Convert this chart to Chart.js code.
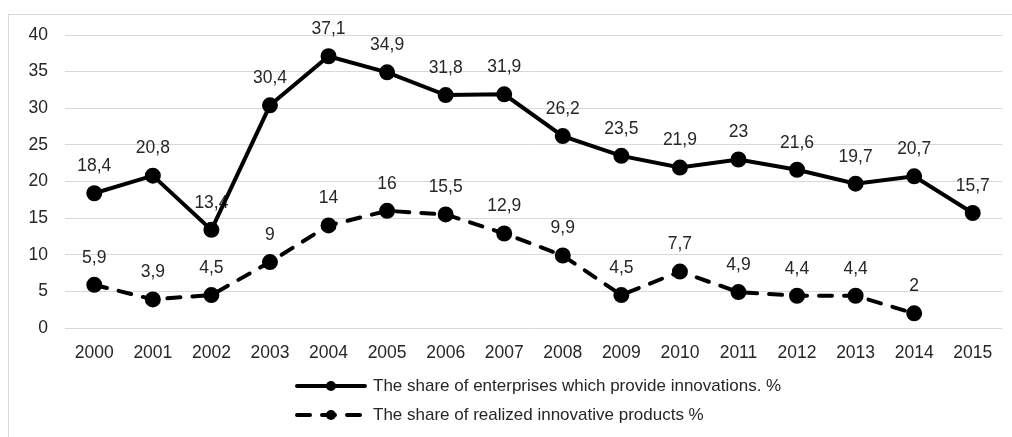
<!DOCTYPE html>
<html>
<head>
<meta charset="utf-8">
<script src="https://cdn.jsdelivr.net/npm/chart.js@4/dist/chart.umd.min.js"></script>
<style>
    html, body { margin: 0; padding: 0; background: #fff; }
    #wrap { position: relative; width: 1012px; height: 437px; }
</style>
</head>
<body>
<div id="wrap"><canvas id="myChart" width="1012" height="437"></canvas></div>
<script>
const years = ['2000', '2001', '2002', '2003', '2004', '2005', '2006', '2007', '2008', '2009', '2010', '2011', '2012', '2013', '2014', '2015'];
const enterprisesShare = [18.4, 20.8, 13.4, 30.4, 37.1, 34.9, 31.8, 31.9, 26.2, 23.5, 21.9, 23, 21.6, 19.7, 20.7, 15.7];
const productsShare = [5.9, 3.9, 4.5, 9, 14, 16, 15.5, 12.9, 9.9, 4.5, 7.7, 4.9, 4.4, 4.4, 2, null];
const seriesNames = ['The share of enterprises which provide innovations. %', 'The share of realized innovative products %'];

const FONT = '"Liberation Sans", Arial, sans-serif';
const TXT = '#262626';

// frame around the chart (right and bottom edges fall outside the window)
const framePlugin = {
    id: 'frame',
    beforeDraw(chart) {
        let c = chart.ctx;
        c.save();
        c.strokeStyle = '#d9d9d9';
        c.lineWidth = 1;
        c.strokeRect(8.5, 14.5, 1100, 440);
        c.restore();
    }
};

// values above the points, comma as decimal separator
const labelPlugin = {
    id: 'valueLabels',
    beforeDatasetsDraw(chart) {
        let c = chart.ctx;
        c.save();
        c.font = '17.5px ' + FONT;
        c.fillStyle = TXT;
        c.textAlign = 'center';
        c.textBaseline = 'middle';
        chart.data.datasets.forEach(function (ds, i) {
            chart.getDatasetMeta(i).data.forEach(function (pt, j) {
                let v = ds.data[j];
                if (v === null) return;
                c.fillText(String(v).replace('.', ','), pt.x, pt.y - 27);
            });
        });
        c.restore();
    }
};

// stacked legend below the axis
const legendPlugin = {
    id: 'stackLegend',
    afterDraw(chart) {
        let c = chart.ctx;
        c.save();
        chart.data.datasets.forEach(function (ds, i) {
            let y = 386 + i * 29;
            c.strokeStyle = '#000';
            c.lineWidth = ds.borderWidth;
            c.lineCap = 'round';
            c.setLineDash(ds.borderDash || []);
            c.beginPath();
            c.moveTo(297, y);
            c.lineTo(365, y);
            c.stroke();
            c.setLineDash([]);
            c.fillStyle = '#000';
            c.beginPath();
            c.arc(331, y, 5, 0, Math.PI * 2);
            c.fill();
            c.font = '17px ' + FONT;
            c.fillStyle = TXT;
            c.textAlign = 'left';
            c.textBaseline = 'middle';
            c.fillText(ds.label, 373, y);
        });
        c.restore();
    }
};

const ctx = document.getElementById('myChart').getContext('2d');
new Chart(ctx, {
    type: 'line',
    data: {
        labels: years,
        datasets: [{
            label: seriesNames[0],
            data: enterprisesShare,
            borderColor: '#000',
            backgroundColor: '#000',
            borderWidth: 4,
            pointRadius: 6,
            pointHoverRadius: 6,
            fill: false,
            tension: 0
        }, {
            label: seriesNames[1],
            data: productsShare,
            borderColor: '#000',
            backgroundColor: '#000',
            borderWidth: 4,
            borderDash: [13, 12],
            borderCapStyle: 'round',
            pointRadius: 6,
            pointHoverRadius: 6,
            fill: false,
            tension: 0
        }]
    },
    options: {
        responsive: false,
        animation: false,
        events: [],
        layout: { padding: { top: 35, right: 9, bottom: 0, left: 0 } },
        plugins: {
            legend: { display: false },
            tooltip: { enabled: false }
        },
        scales: {
            x: {
                offset: true,
                grid: { display: false, drawTicks: false },
                border: { display: false },
                ticks: { color: TXT, font: { family: FONT, size: 17.5 }, padding: 15, maxRotation: 0, autoSkip: false },
                afterFit: function (scale) { scale.height = 109; }
            },
            y: {
                min: 0,
                max: 40,
                grid: { color: '#d9d9d9', lineWidth: 1, drawTicks: false },
                border: { display: false },
                ticks: { stepSize: 5, color: TXT, font: { family: FONT, size: 17.5 }, padding: 17 },
                afterFit: function (scale) { scale.width = 65; }
            }
        }
    },
    plugins: [framePlugin, labelPlugin, legendPlugin]
});
</script>
</body>
</html>
